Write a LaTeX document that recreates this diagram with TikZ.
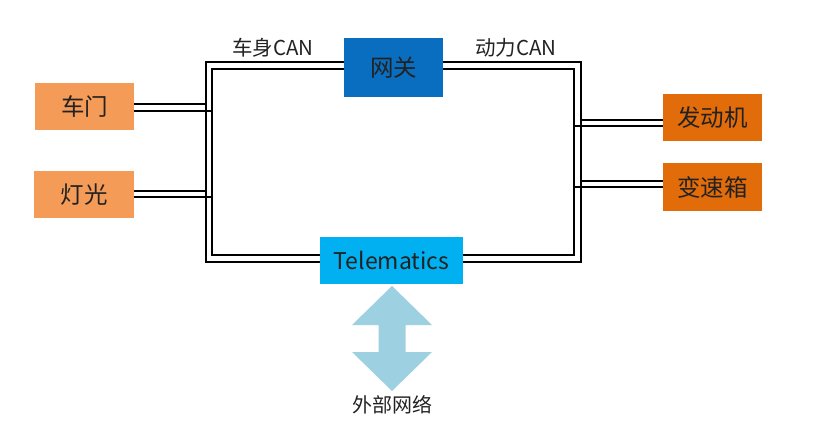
\documentclass[tikz,border=0pt]{standalone}
\usepackage{fontspec}
\setmainfont{Noto Sans CJK SC}
\definecolor{lightor}{HTML}{F59B58}
\definecolor{darkor}{HTML}{E26B0A}
\definecolor{gwblue}{HTML}{0A6EC0}
\definecolor{telblue}{HTML}{00B0F0}
\definecolor{arrowblue}{HTML}{9DD0E0}
\definecolor{txt}{HTML}{222222}
\begin{document}
\begin{tikzpicture}[x=1pt,y=1pt,
  boxbase/.style={rectangle, inner sep=0pt, text=txt},
  ecu/.style={boxbase, fill=lightor, minimum width=99pt, minimum height=47pt, font=\fontsize{23.5}{26}\selectfont},
  pwr/.style={boxbase, fill=darkor, minimum width=99pt, minimum height=47pt, font=\fontsize{23.5}{26}\selectfont},
  bus/.style={line width=1.8pt, black},
  lbl/.style={text=txt, font=\fontsize{20.5}{23}\selectfont, inner sep=0pt}]
\useasboundingbox (0,0) rectangle (824,426);

% nodes
\node[boxbase, fill=gwblue, minimum width=99pt, minimum height=59pt, font=\fontsize{23.5}{26}\selectfont] (gw) at (393.5,358.5) {网关};
\node[boxbase, fill=telblue, minimum width=143pt, minimum height=47pt, font=\fontsize{23}{26}\selectfont] (tel) at (391.5,165.5) {Telematics};
\node[ecu] (door) at (84.5,319.5) {车门};
\node[ecu, minimum width=100pt] (light) at (84,231.5) {灯光};
\node[pwr] (eng) at (712.5,308.5) {发动机};
\node[pwr, minimum height=48pt] (gear) at (712.5,239) {变速箱};

\node[lbl] (bodycan) at (273,378) {车身CAN};
\node[lbl] (pwrcan) at (516,378) {动力CAN};

% bus corners
\coordinate (LOt) at (206,364);
\coordinate (LOb) at (206,164);
\coordinate (LIt) at (212,357);
\coordinate (LIb) at (212,171);
\coordinate (ROt) at (581,364);
\coordinate (ROb) at (581,164);
\coordinate (RIt) at (574,357);
\coordinate (RIb) at (574,171);

% body CAN
\draw[bus] (gw.west |- LOt) -- (LOt) -- (LOb) -- (tel.west |- LOb);
\draw[bus] (gw.west |- LIt) -- (LIt) -- (LIb) -- (tel.west |- LIb);
% power CAN
\draw[bus] (gw.east |- ROt) -- (ROt) -- (ROb) -- (tel.east |- ROb);
\draw[bus] (gw.east |- RIt) -- (RIt) -- (RIb) -- (tel.east |- RIb);

% stubs
\draw[bus] ([yshift=2.5pt]door.east) -- ([yshift=2.5pt]door.east -| LOt);
\draw[bus] ([yshift=-4.5pt]door.east) -- ([yshift=-4.5pt]door.east -| LIt);
\draw[bus] ([yshift=3.5pt]light.east) -- ([yshift=3.5pt]light.east -| LOt);
\draw[bus] ([yshift=-2.5pt]light.east) -- ([yshift=-2.5pt]light.east -| LIt);
\draw[bus] ([yshift=-2.5pt]eng.west) -- ([yshift=-2.5pt]eng.west -| ROt);
\draw[bus] ([yshift=-8.5pt]eng.west) -- ([yshift=-8.5pt]eng.west -| RIt);
\draw[bus] ([yshift=6pt]gear.west) -- ([yshift=6pt]gear.west -| ROt);
\draw[bus] ([yshift=0pt]gear.west) -- ([yshift=0pt]gear.west -| RIt);

% double block arrow
\fill[arrowblue] (392,140) -- (432,101) -- (405.5,101) -- (405.5,74) -- (432,74) -- (392,35)
  -- (352,74) -- (378.5,74) -- (378.5,101) -- (352,101) -- cycle;
\node[text=txt, font=\fontsize{20}{24}\selectfont, inner sep=0pt] (ext) at (392,21) {外部网络};
\end{tikzpicture}
\end{document}
